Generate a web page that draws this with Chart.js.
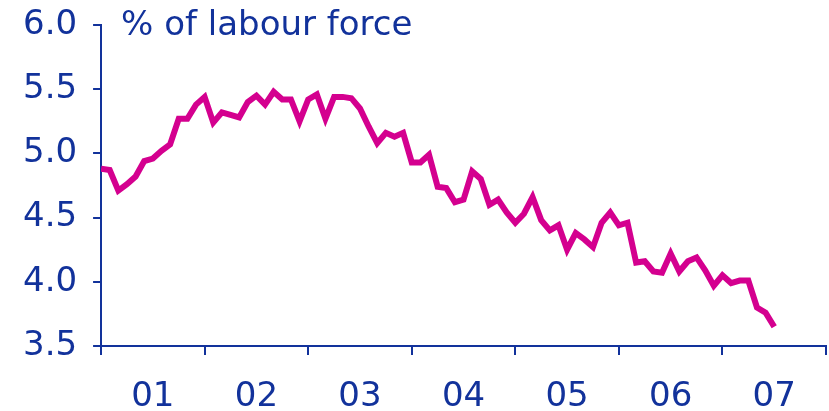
<!DOCTYPE html>
<html>
<head>
<meta charset="utf-8">
<script src="https://cdn.jsdelivr.net/npm/chart.js@4/dist/chart.umd.min.js"></script>
<style>
  html, body { margin: 0; padding: 0; background: #fff; }
  canvas { display: block; }
</style>
</head>
<body>
<canvas id="unempChart" width="829" height="411"></canvas>
<script>
// Unemployment rate, monthly, Jan 2001 - Jul 2007 (% of labour force)
const yearLabels = ["01", "02", "03", "04", "05", "06", "07"];
const rate2001 = [4.88, 4.87, 4.71, 4.76, 4.82, 4.94, 4.96, 5.02, 5.07, 5.27, 5.27, 5.38];
const rate2002 = [5.44, 5.24, 5.32, 5.30, 5.28, 5.40, 5.45, 5.38, 5.48, 5.42, 5.42, 5.25];
const rate2003 = [5.42, 5.46, 5.27, 5.44, 5.44, 5.43, 5.35, 5.21, 5.08, 5.16, 5.13, 5.16];
const rate2004 = [4.93, 4.93, 4.99, 4.74, 4.73, 4.62, 4.64, 4.86, 4.80, 4.60, 4.64, 4.54];
const rate2005 = [4.46, 4.53, 4.66, 4.48, 4.40, 4.44, 4.25, 4.38, 4.33, 4.27, 4.46, 4.54];
const rate2006 = [4.44, 4.46, 4.15, 4.16, 4.08, 4.07, 4.22, 4.08, 4.16, 4.19, 4.09, 3.97];
const rate2007 = [4.05, 3.99, 4.01, 4.01, 3.80, 3.76, 3.65];
const yTicks = [3.5, 4.0, 4.5, 5.0, 5.5, 6.0];
const titleText = "% of labour force";

const rates = [].concat(rate2001, rate2002, rate2003, rate2004, rate2005, rate2006, rate2007);
const points = rates.map((v, i) => ({ x: i, y: v }));

const blue = "#12329b";
const magenta = "#d4008f";
const font = "'DejaVu Sans', Verdana, sans-serif";

const titlePlugin = {
  id: "cornerTitle",
  afterDraw(chart) {
    const ctx = chart.ctx;
    ctx.save();
    ctx.font = "34px " + font;
    ctx.fillStyle = blue;
    ctx.textBaseline = "alphabetic";
    ctx.fillText(titleText, chart.chartArea.left + 20, chart.chartArea.top + 10);
    ctx.restore();
  }
};

new Chart(document.getElementById("unempChart"), {
  type: "line",
  data: {
    datasets: [{
      data: points,
      borderColor: magenta,
      borderWidth: 6,
      pointRadius: 0,
      tension: 0,
      fill: false
    }]
  },
  options: {
    responsive: false,
    animation: false,
    devicePixelRatio: 1,
    layout: { padding: { top: 25, right: 3, left: 7, bottom: 0 } },
    plugins: {
      legend: { display: false },
      tooltip: { enabled: false }
    },
    scales: {
      x: {
        type: "linear",
        min: 0,
        max: 84,
        afterBuildTicks: axis => {
          axis.ticks = [];
          for (let v = 0; v <= 84; v += 6) axis.ticks.push({ value: v });
        },
        afterFit: axis => {
          axis.height = 65;
          axis.paddingLeft = 0;
          axis.paddingRight = 0;
        },
        ticks: {
          autoSkip: false,
          maxRotation: 0,
          padding: 22,
          color: blue,
          font: { family: font, size: 34 },
          callback: v => (v % 12 === 6 ? yearLabels[(v - 6) / 12] : "")
        },
        grid: {
          drawOnChartArea: false,
          drawTicks: true,
          tickLength: 9,
          lineWidth: 2,
          color: c => (c.tick && c.tick.value % 12 === 0 ? blue : "rgba(0,0,0,0)")
        },
        border: { color: blue, width: 2 }
      },
      y: {
        min: 3.5,
        max: 6.0,
        afterBuildTicks: axis => { axis.ticks = yTicks.map(v => ({ value: v })); },
        afterFit: axis => {
          axis.paddingTop = 0;
          axis.paddingBottom = 0;
        },
        ticks: {
          padding: 16,
          color: blue,
          font: { family: font, size: 34 },
          callback: v => v.toFixed(1)
        },
        grid: {
          drawOnChartArea: false,
          drawTicks: true,
          tickLength: 8,
          lineWidth: 2,
          color: blue
        },
        border: { color: blue, width: 2 }
      }
    }
  },
  plugins: [titlePlugin]
});
</script>
</body>
</html>
